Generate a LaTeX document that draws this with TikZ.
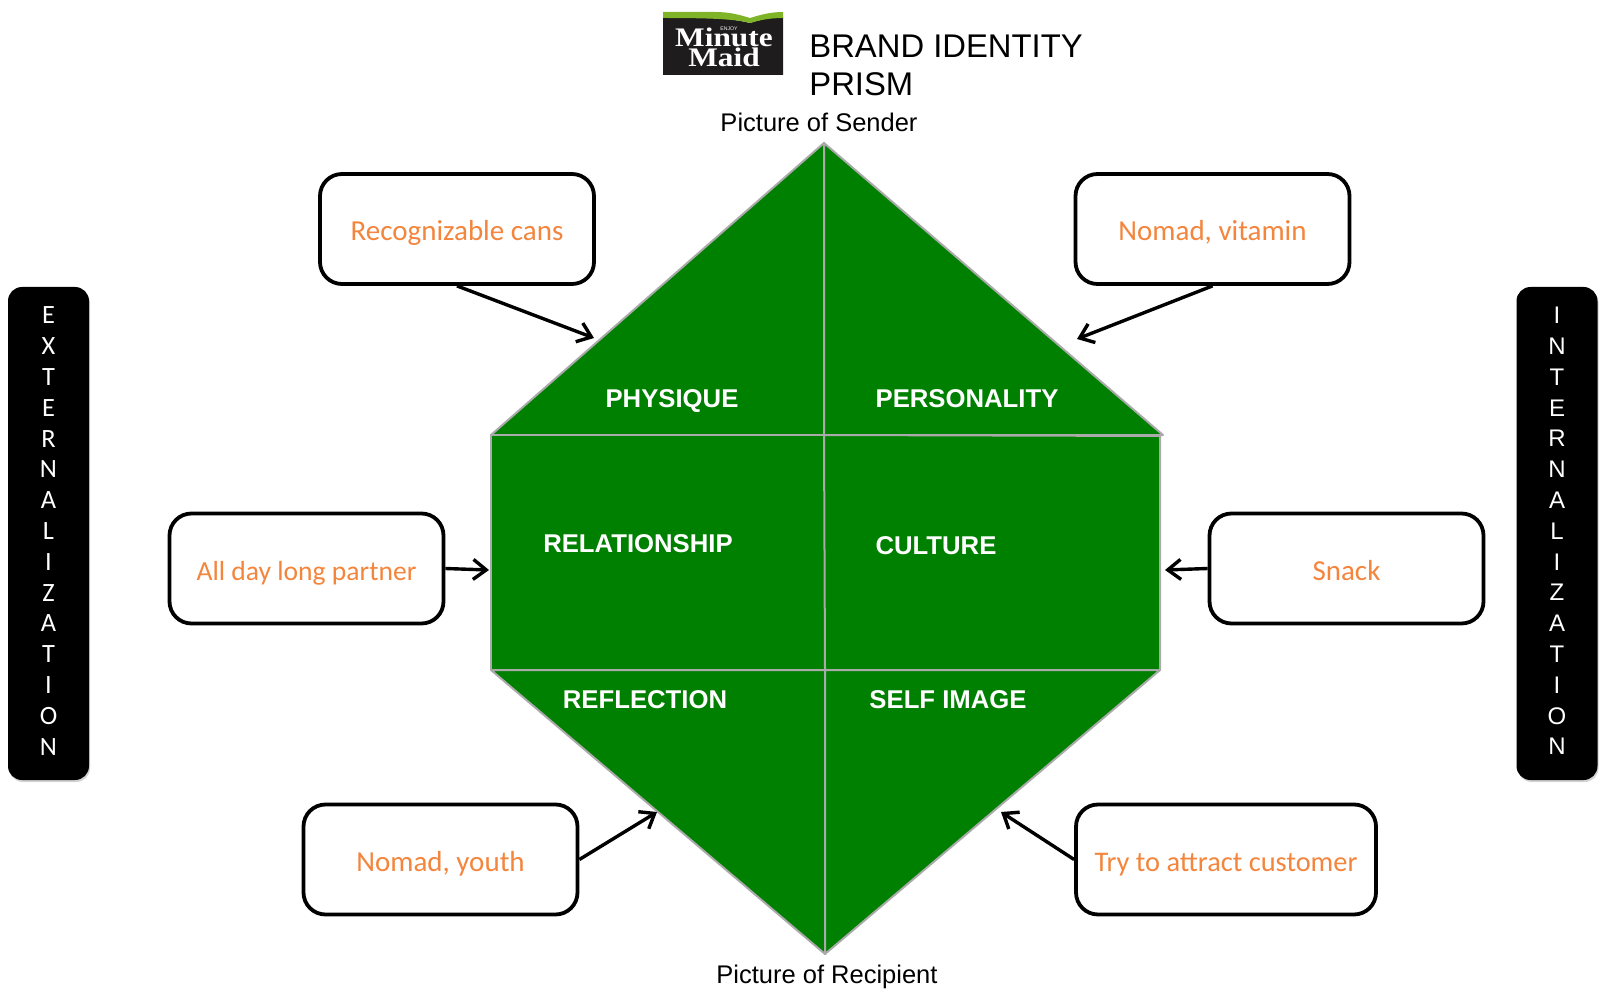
\documentclass[tikz,border=0pt]{standalone}
\usepackage{fontspec}
\setmainfont{Liberation Sans}
\newfontfamily\calib{Carlito}
\newfontfamily\logofont[FakeStretch=1.17]{Liberation Serif}
\usetikzlibrary{arrows.meta}
\usetikzlibrary{shadows}
\definecolor{prismgreen}{RGB}{0,128,0}
\definecolor{edgegray}{RGB}{170,170,170}
\definecolor{noteorange}{RGB}{243,133,60}
\definecolor{logogreen}{RGB}{128,180,40}
\definecolor{logoblack}{RGB}{30,28,28}
\tikzset{
	pane/.style={fill=prismgreen, draw=edgegray, line width=1pt, line join=round},
	panelabel/.style={text=white, font=\fontsize{12.85}{15}\selectfont\bfseries, inner sep=0},
	notebox/.style={draw=black, fill=white, line width=1.9pt, rounded corners=11pt, inner sep=0,
		text=noteorange, font=\calib\fontsize{14.5}{17}\selectfont, minimum height=55pt,
		text height=15.5pt, text depth=3.5pt},
	sidebar/.style={fill=black, rounded corners=7pt, inner sep=0, minimum width=40.5pt, minimum height=246.5pt,
		drop shadow={shadow xshift=0.5pt, shadow yshift=-1pt, opacity=0.35}},
	barletters/.style={text=white, align=center, inner sep=0},
	caption/.style={font=\fontsize{12.75}{15}\selectfont, inner sep=0},
	pointer/.style={line width=1.7pt, -{Straight Barb[length=6.5pt,width=10pt,line width=1.7pt]}},
	logoword/.style={text=white, font=\logofont\fontsize{13.4}{15}\selectfont\bfseries, inner sep=0, anchor=base},
}
\begin{document}
\begin{tikzpicture}[x=0.5pt, y=-0.5pt]
\useasboundingbox (0,0) rectangle (1600,994);

% prism corners
\coordinate (top) at (824,143);
\coordinate (bottom) at (825,954);
\coordinate (ul) at (491,435);
\coordinate (ur) at (1163,435);
\coordinate (ml) at (491,670);
\coordinate (mr) at (1160,670);
\coordinate (rl) at (1160,436);
\coordinate (cu) at (824,435);
\coordinate (cd) at (825,670);

\fill[black, opacity=0.25, xshift=1pt, yshift=-1pt] (top) -- (ur) -- (rl) -- (mr) -- (bottom) -- (ml) -- (ul) -- cycle;
\draw[pane] (top) -- (cu) -- (ul) -- cycle;
\draw[pane] (top) -- (ur) -- (cu) -- cycle;
\draw[pane] (ul) rectangle (cd);
\draw[pane] (cu) -- (rl) -- (mr) -- (cd) -- cycle;
\draw[pane] (ml) -- (cd) -- (bottom) -- cycle;
\draw[pane] (cd) -- (mr) -- (bottom) -- cycle;

\node[panelabel] (physique) at (672,401) {PHYSIQUE};
\node[panelabel] (personality) at (967,399) {PERSONALITY};
\node[panelabel] (relationship) at (638,544) {RELATIONSHIP};
\node[panelabel] (culture) at (936,546) {CULTURE};
\node[panelabel] (reflection) at (645,700) {REFLECTION};
\node[panelabel] (selfimage) at (948,700) {SELF IMAGE};

% logo
\fill[logoblack] (663,17) .. controls (700,17) and (725,17) .. (750,23)
	.. controls (760,20) and (770,17) .. (783,17) -- (783,75) -- (663,75) -- cycle;
\fill[logogreen] (663,12) -- (715,12) .. controls (730,12) and (740,15) .. (750,18)
	.. controls (760,15) and (770,12) .. (783,12) -- (783,18)
	.. controls (770,18) and (760,20) .. (750,23)
	.. controls (735,19) and (710,18) .. (663,18) -- cycle;
\node[logoword] (minute) at (724,47) {Minute};
\node[logoword] (maid) at (724,67) {Maid};
\node[text=white, font=\fontsize{2.6}{3}\selectfont, inner sep=0] (enjoy) at (729,29) {ENJOY};

\node[font=\fontsize{16.4}{19}\selectfont, align=left, anchor=north west, inner sep=0] (title) at (809,34.5) {BRAND IDENTITY\\PRISM};
\node[caption] (sender) at (819,122.5) {Picture of Sender};
\node[caption] (recipient) at (827,977) {Picture of Recipient};

% side bars
\node[sidebar] (ext) at (48.5,533.5) {};
\node[sidebar] (int) at (1557,533.5) {};
\node[barletters, font=\calib\fontsize{13.2}{15.4}\selectfont] (extword) at (48.5,531) {E\\X\\T\\E\\R\\N\\A\\L\\I\\Z\\A\\T\\I\\O\\N};
\node[barletters, font=\fontsize{12}{15.4}\selectfont] (intword) at (1557,531) {I\\N\\T\\E\\R\\N\\A\\L\\I\\Z\\A\\T\\I\\O\\N};

% notes
\node[notebox, minimum width=137pt] (cans) at (457,229) {Recognizable cans};
\node[notebox, minimum width=137pt] (vitamin) at (1212.5,229) {Nomad, vitamin};
\node[notebox, minimum width=137pt, font=\calib\fontsize{13.8}{17}\selectfont] (partner) at (306.5,568.5) {All day long partner};
\node[notebox, minimum width=137pt] (snack) at (1346.5,568.5) {Snack};
\node[notebox, minimum width=137pt] (youth) at (440.5,859.5) {Nomad, youth};
\node[notebox, minimum width=150pt, font=\calib\fontsize{14.2}{17}\selectfont] (attract) at (1226,859.5) {Try to attract customer};

\coordinate (tipa) at (594,338);
\coordinate (tipb) at (1077,339);
\coordinate (tipc) at (489,570);
\coordinate (tipd) at (1165,570);
\coordinate (tipe) at (657,812);
\coordinate (tipf) at (1001,812);

\draw[pointer] (cans.south) -- (tipa);
\draw[pointer] (vitamin.south) -- (tipb);
\draw[pointer] (partner.east) -- (tipc);
\draw[pointer] (snack.west) -- (tipd);
\draw[pointer] (youth.east) -- (tipe);
\draw[pointer] (attract.west) -- (tipf);
\end{tikzpicture}
\end{document}
